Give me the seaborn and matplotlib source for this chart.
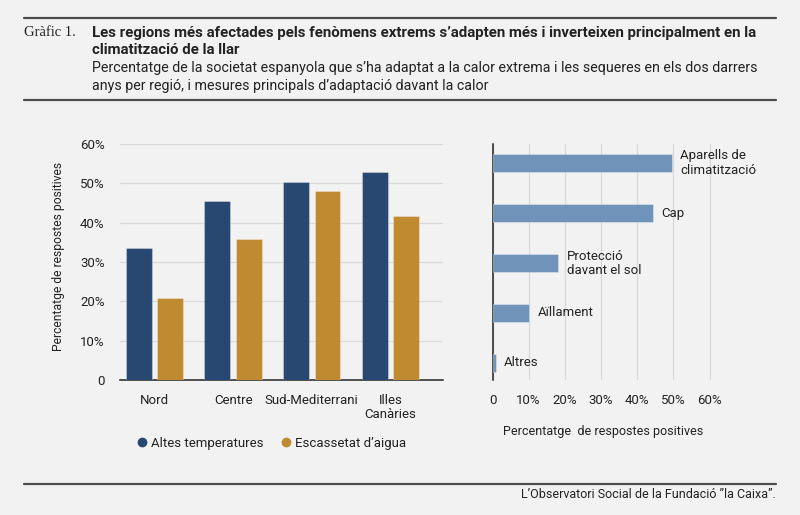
import numpy as np
import pandas as pd
import matplotlib.pyplot as plt
from matplotlib.lines import Line2D
import seaborn as sns

# --- data ---
regions = ['Nord', 'Centre', 'Sud-Mediterrani', 'Illes\nCanàries']
altes_temperatures = [33.6, 45.5, 50.3, 53.0]
escassetat_aigua = [20.9, 35.9, 48.1, 41.7]
series_names = ['Altes temperatures', 'Escassetat d\u2019aigua']

measures = ['Aparells de\nclimatització', 'Cap', 'Protecció\ndavant el sol', 'Aïllament', 'Altres']
measure_pct = [49.5, 44.4, 18.2, 10.2, 0.9]

BG = '#f2f2f2'
NAVY = '#284871'
OCHRE = '#c08a31'
STEEL = '#6f93b9'
TXT = '#222222'
RULE = '#4d4d4d'

sns.set_theme(style='white')
plt.rcParams['font.family'] = ['Roboto', 'DejaVu Sans']
plt.rcParams['text.color'] = TXT
plt.rcParams['axes.labelcolor'] = TXT
plt.rcParams['xtick.color'] = TXT
plt.rcParams['ytick.color'] = TXT

fig = plt.figure(figsize=(8, 5.15), dpi=100, facecolor=BG)

def fx(px):
    return px / 800

def fy(py):
    return 1 - py / 515

# header / footer rules
for y in (18, 100, 484):
    fig.add_artist(Line2D([fx(24), fx(776)], [fy(y), fy(y)], color=RULE, lw=1.6))

fig.text(fx(24), fy(33), 'Gràfic 1.', family=['Liberation Serif', 'DejaVu Serif'],
         fontsize=10.5, va='center', ha='left')
fig.text(fx(92), fy(41.5), 'Les regions més afectades pels fenòmens extrems s\u2019adapten més i inverteixen '
         'principalment en la\nclimatització de la llar',
         fontweight='bold', fontsize=10.8, va='center', ha='left', linespacing=1.25)
fig.text(fx(92), fy(77), 'Percentatge de la societat espanyola que s\u2019ha adaptat a la calor extrema i les '
         'sequeres en els dos darrers\nanys per regió, i mesures principals d\u2019adaptació davant la calor',
         fontsize=10.3, va='center', ha='left', linespacing=1.3)
fig.text(fx(776), fy(495), 'L\u2019Observatori Social de la Fundació \u201dla Caixa\u201d.',
         fontsize=9, ha='right', va='center')

# --- left chart: regions ---
ax1 = fig.add_axes([fx(120), fy(380), fx(443) - fx(120), (380 - 144) / 515])
ax1.set_facecolor(BG)
df = pd.DataFrame({
    'regio': regions * 2,
    'pct': altes_temperatures + escassetat_aigua,
    'serie': [series_names[0]] * len(regions) + [series_names[1]] * len(regions),
})
sns.barplot(data=df, x='regio', y='pct', hue='serie', palette=[NAVY, OCHRE],
            saturation=1, width=0.8, gap=0.175, edgecolor=(1, 1, 1, 0.3), linewidth=0.8,
            legend=False, ax=ax1, zorder=3)
ax1.set_ylim(0, 60)
ax1.set_xlim(-0.44, 3.67)
ax1.set_yticks(range(0, 61, 10))
ax1.set_yticklabels(['0'] + [f'{v}%' for v in range(10, 61, 10)], fontsize=9.5)
ax1.yaxis.grid(True, color='#d9d9d9', lw=0.9, zorder=0)
ax1.set_axisbelow(True)
ax1.tick_params(axis='y', length=0, pad=11)
ax1.tick_params(axis='x', length=0, pad=10, labelsize=9.5)
ax1.set_xlabel('')
ax1.set_ylabel('Percentatge de respostes positives', fontsize=8.7)
ax1.yaxis.set_label_coords(-0.17, 0.525)
for s in ('left', 'right', 'top'):
    ax1.spines[s].set_visible(False)
ax1.spines['bottom'].set_color('#222222')
ax1.spines['bottom'].set_linewidth(1.1)
for lbl in ax1.get_xticklabels():
    lbl.set_linespacing(1.1)
    lbl.set_va('top')

handles = [Line2D([], [], marker='o', ls='', color=c, markersize=6) for c in (NAVY, OCHRE)]
fig.legend(handles, series_names, loc='center', bbox_to_anchor=(fx(271), fy(443)),
           ncol=2, frameon=False, fontsize=9.5, handletextpad=0.2, columnspacing=1.2,
           handlelength=1.0)

# --- right chart: measures ---
ax2 = fig.add_axes([fx(492.5), fy(380), fx(713.3) - fx(492.5), (380 - 144) / 515])
ax2.set_facecolor(BG)
sns.barplot(x=measure_pct, y=measures, orient='h', color=STEEL, saturation=1, width=0.36,
            edgecolor=(1, 1, 1, 0.3), linewidth=0.8, ax=ax2, zorder=3)
ax2.set_xlim(0, 61)
ax2.set_ylim(4.34, -0.38)
ax2.set_xticks(range(0, 61, 10))
ax2.set_xticklabels(['0'] + [f'{v}%' for v in range(10, 61, 10)], fontsize=9.5)
ax2.xaxis.grid(True, color='#d9d9d9', lw=0.9, zorder=0)
ax2.set_axisbelow(True)
ax2.set_yticks([])
ax2.tick_params(axis='x', length=0, pad=10)
ax2.set_xlabel('Percentatge  de respostes positives', fontsize=9, labelpad=13)
ax2.set_ylabel('')
for s in ('right', 'top', 'bottom'):
    ax2.spines[s].set_visible(False)
ax2.spines['left'].set_color('#222222')
ax2.spines['left'].set_linewidth(1.1)
for i, (name, v) in enumerate(zip(measures, measure_pct)):
    ax2.annotate(name, xy=(v, i), xytext=(6, 0), textcoords='offset points',
                 va='center', ha='left', fontsize=9.5, linespacing=1.1,
                 annotation_clip=False)

fig.savefig('out.png', dpi=100, facecolor=BG)
